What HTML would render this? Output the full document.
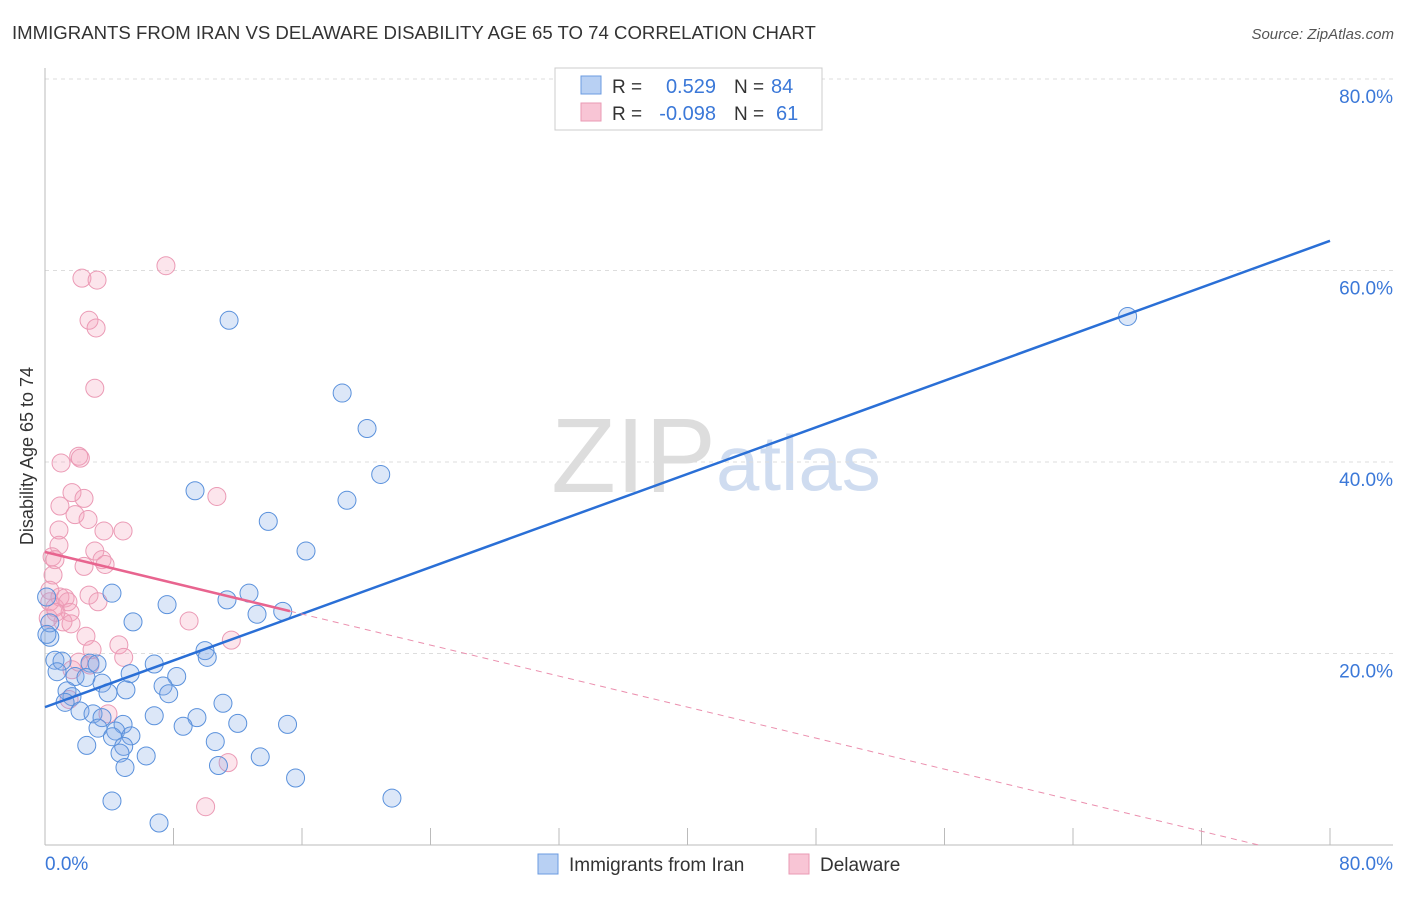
<!DOCTYPE html>
<html><head><meta charset="utf-8"><style>
body{margin:0;background:#fff;font-family:"Liberation Sans",sans-serif;}
svg text{font-family:"Liberation Sans",sans-serif;}
</style></head><body>
<svg id="chart" width="1406" height="892">
<text x="12" y="39" font-size="18.6" fill="#333">IMMIGRANTS FROM IRAN VS DELAWARE DISABILITY AGE 65 TO 74 CORRELATION CHART</text>
<text x="1394" y="39" font-size="15" fill="#555" font-style="italic" text-anchor="end">Source: ZipAtlas.com</text>
<text x="716" y="492" font-size="106" fill="#ddd" text-anchor="end" font-family="Liberation Serif">ZIP</text>
<text x="716" y="490" font-size="78" fill="#cfdcf0">atlas</text>
<g id="grid"></g>
<g id="axes"></g>
<g id="marks"></g>
<g id="lines"></g>
<text transform="translate(33,456) rotate(-90)" font-size="18" fill="#333" text-anchor="middle">Disability Age 65 to 74</text>
<g>
<rect x="555" y="68" width="267" height="62" fill="#fff" stroke="#ccc"/>
<rect x="581" y="76" width="20" height="18" fill="#b8d0f3" stroke="#6b9be0"/>
<rect x="581" y="103" width="20" height="18" fill="#f8c5d5" stroke="#ea9ab4"/>
<text x="612" y="93" font-size="19" fill="#333">R = </text><text x="716" y="93" font-size="20" fill="#3b78d8" text-anchor="end">0.529</text>
<text x="734" y="93" font-size="19" fill="#333">N = </text><text x="771" y="93" font-size="20" fill="#3b78d8">84</text>
<text x="612" y="120" font-size="19" fill="#333">R = </text><text x="716" y="120" font-size="20" fill="#3b78d8" text-anchor="end">-0.098</text>
<text x="734" y="120" font-size="19" fill="#333">N = </text><text x="776" y="120" font-size="20" fill="#3b78d8">61</text>
</g>
<g>
<rect x="538" y="854" width="20" height="20" fill="#b8d0f3" stroke="#6b9be0"/>
<text x="569" y="871" font-size="19" fill="#333">Immigrants from Iran</text>
<rect x="789" y="854" width="20" height="20" fill="#f8c5d5" stroke="#ea9ab4"/>
<text x="820" y="871" font-size="19" fill="#333">Delaware</text>
</g>
</svg>
<script>
const yTicks=[20,40,60,80];
const yTickLabels=["20.0%","40.0%","60.0%","80.0%"];
const xTicks=[0,8,16,24,32,40,48,56,64,72,80];
const blueX=[11.46,18.5,20.05,20.9,9.34,18.8,13.9,16.25,67.4,4.17,12.7,11.33,7.6,13.2,14.8,5.48,0.3,9.96,10.1,6.8,0.62,1.06,2.8,3.24,0.75,5.3,8.2,1.87,2.55,3.55,7.35,7.7,5.04,3.92,1.37,1.68,11.08,1.25,2.18,2.99,6.8,9.46,3.55,4.86,12.0,15.1,8.6,3.3,4.4,4.2,5.35,2.6,4.9,10.6,4.67,6.3,13.4,10.8,4.98,15.6,4.17,21.6,7.1,0.3,0.1,0.12];
const blueY=[54.8,47.2,43.5,38.7,37.0,36.0,33.8,30.7,55.2,26.3,26.3,25.6,25.1,24.1,24.4,23.3,21.7,20.3,19.6,18.9,19.3,19.2,19.0,18.9,18.1,17.9,17.6,17.6,17.5,16.9,16.6,15.8,16.2,15.9,16.1,15.5,14.8,14.9,14.0,13.7,13.5,13.3,13.3,12.6,12.7,12.6,12.4,12.2,11.9,11.3,11.4,10.4,10.3,10.8,9.6,9.3,9.2,8.3,8.1,7.0,4.6,4.9,2.3,23.2,25.9,22.0];
const pinkX=[7.53,2.3,3.24,2.74,3.18,3.1,1.0,2.1,2.2,1.68,2.43,10.7,0.93,1.87,2.68,0.87,3.67,4.86,0.87,3.1,3.55,3.74,0.44,0.62,0.5,2.43,2.74,0.93,1.25,0.3,0.62,1.43,3.3,1.56,8.97,1.12,1.62,2.55,4.6,2.93,11.6,4.9,2.8,1.68,2.1,3.92,1.5,11.4,10.0,0.3,0.68,0.2];
const pinkY=[60.5,59.2,59.0,54.8,54.0,47.7,39.9,40.6,40.4,36.8,36.2,36.4,35.4,34.5,34.0,32.9,32.8,32.8,31.3,30.7,29.8,29.3,30.1,29.8,28.2,29.1,26.1,25.9,25.8,25.4,24.8,25.4,25.4,24.3,23.4,23.3,23.1,21.8,20.9,20.4,21.4,19.6,18.8,18.3,19.1,13.7,15.2,8.6,4.0,26.6,24.3,23.7];
const blueFit=[14.4,63.1];
const pinkFit=[30.6,-0.405];
const pinkSolidEnd=15.25;
const X=v=>45+v*16.0625, Y=v=>845-v*9.575;
const NS="http://www.w3.org/2000/svg";
function mk(tag,attrs,parent){const e=document.createElementNS(NS,tag);for(const k in attrs)e.setAttribute(k,attrs[k]);document.getElementById(parent).appendChild(e);return e;}
yTicks.forEach((t,i)=>{
 const g=mk('line',{x1:45,x2:1393,y1:Y(t),y2:Y(t),stroke:'#ddd','stroke-dasharray':'4,4'},'grid');
 
 
 const l=mk('text',{x:1393,y:Y(t)+24,'font-size':19,fill:'#3b78d8','text-anchor':'end'},'axes');
 l.textContent=yTickLabels[i];
 
 
});
const ax=mk('line',{x1:45,x2:1393,y1:845,y2:845,stroke:'#bbb'},'axes');


const ay=mk('line',{x1:45,x2:45,y1:68,y2:845,stroke:'#bbb'},'axes');


xTicks.forEach(t=>{
 const k=mk('line',{x1:X(t),x2:X(t),y1:828,y2:845,stroke:'#bbb'},'axes');
 
 
});
[[0,"0.0%","start",45],[80,"80.0%","end",1393]].forEach(a=>{
 const l=mk('text',{x:a[3],y:870,'font-size':19,fill:'#3b78d8','text-anchor':a[2]},'axes');
 l.textContent=a[1];
 
 
});
pinkX.forEach((x,i)=>{
 const c=mk('circle',{cx:X(x),cy:Y(pinkY[i]),r:9,fill:'rgba(244,160,188,0.28)',stroke:'#eb9ab5','stroke-width':1},'marks');
 
 
});
blueX.forEach((x,i)=>{
 const c=mk('circle',{cx:X(x),cy:Y(blueY[i]),r:9,fill:'rgba(130,170,230,0.28)',stroke:'#5a91dc','stroke-width':1},'marks');
 
 
});
const bl=mk('line',{x1:X(0),y1:Y(blueFit[0]),x2:X(80),y2:Y(blueFit[1]),stroke:'#2a6fd6','stroke-width':2.5},'lines');


const pEnd=-pinkFit[0]/pinkFit[1];
const pd=mk('line',{x1:X(pinkSolidEnd),y1:Y(pinkFit[0]+pinkFit[1]*pinkSolidEnd),x2:X(pEnd),y2:Y(0),stroke:'#eb8fae','stroke-width':1,'stroke-dasharray':'6,5'},'lines');


const ps=mk('line',{x1:X(0),y1:Y(pinkFit[0]),x2:X(pinkSolidEnd),y2:Y(pinkFit[0]+pinkFit[1]*pinkSolidEnd),stroke:'#e8648f','stroke-width':2.5},'lines');


</script>
</body></html>
